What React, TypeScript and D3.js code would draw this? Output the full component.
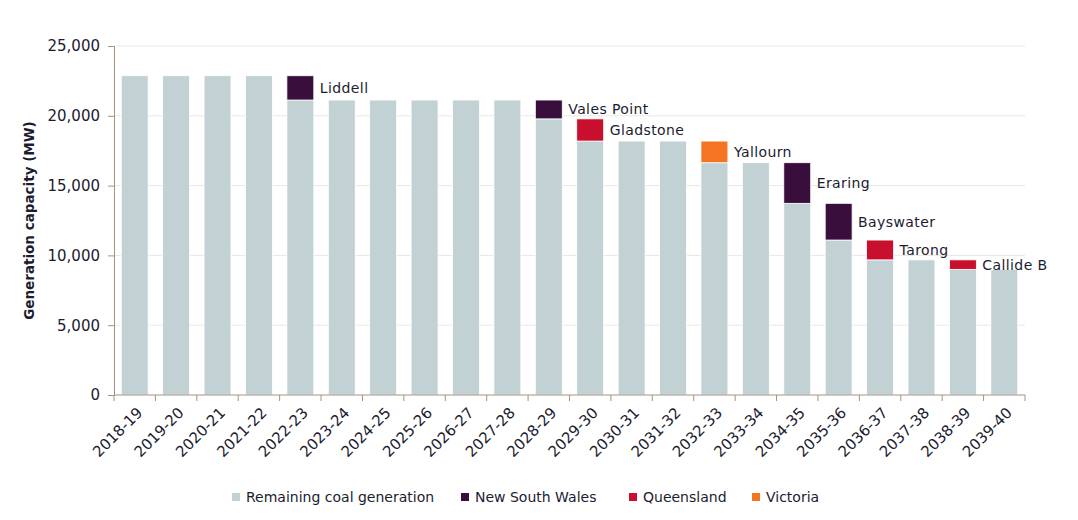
import * as d3 from 'd3'
import React, { useEffect, useRef } from 'react'

const years = [
    '2018-19', '2019-20', '2020-21', '2021-22', '2022-23', '2023-24', '2024-25', '2025-26',
    '2026-27', '2027-28', '2028-29', '2029-30', '2030-31', '2031-32', '2032-33', '2033-34',
    '2034-35', '2035-36', '2036-37', '2037-38', '2038-39', '2039-40',
]
const remaining = [
    22870, 22870, 22870, 22870, 21130, 21130, 21130, 21130, 21130, 21130, 19780, 18190, 18190,
    18190, 16640, 16640, 13730, 11100, 9680, 9680, 9000, 9000,
]
const nsw = [0, 0, 0, 0, 1740, 0, 0, 0, 0, 0, 1350, 0, 0, 0, 0, 0, 2910, 2630, 0, 0, 0, 0]
const qld = [0, 0, 0, 0, 0, 0, 0, 0, 0, 0, 0, 1590, 0, 0, 0, 0, 0, 0, 1420, 0, 680, 0]
const vic = [0, 0, 0, 0, 0, 0, 0, 0, 0, 0, 0, 0, 0, 0, 1550, 0, 0, 0, 0, 0, 0, 0]
const closures = [
    { year: '2022-23', name: 'Liddell' },
    { year: '2028-29', name: 'Vales Point' },
    { year: '2029-30', name: 'Gladstone' },
    { year: '2032-33', name: 'Yallourn' },
    { year: '2034-35', name: 'Eraring' },
    { year: '2035-36', name: 'Bayswater' },
    { year: '2036-37', name: 'Tarong' },
    { year: '2038-39', name: 'Callide B' },
]
const yTicks = [0, 5000, 10000, 15000, 20000, 25000]
const seriesKeys = ['remaining', 'nsw', 'qld', 'vic']
const seriesNames = ['Remaining coal generation', 'New South Wales', 'Queensland', 'Victoria']
const seriesColors = ['#c2d1d4', '#3a0e3c', '#c8102e', '#f47421']

const App = (): JSX.Element => {
    const ref = useRef<SVGSVGElement>(null)
    const width = 1078
    const height = 520
    const margin = { top: 46, right: 53, bottom: 125, left: 114 }
    const font = "'DejaVu Sans', sans-serif"
    const textColor = '#1c1c30'
    const axisColor = '#a39482'

    useEffect(() => {
        const rows = years.map((y, i) => ({
            year: y,
            remaining: remaining[i],
            nsw: nsw[i],
            qld: qld[i],
            vic: vic[i],
        }))
        const stacked = d3.stack().keys(seriesKeys)(rows as any)

        const x = d3
            .scaleBand()
            .domain(years)
            .range([margin.left, width - margin.right])
            .paddingInner(0.35)
            .paddingOuter(0.175)
        const y = d3
            .scaleLinear()
            .domain([0, 25000])
            .range([height - margin.bottom, margin.top])

        const svg = d3.select(ref.current)
        svg.selectAll('*').remove()

        // gridlines
        svg.append('g')
            .selectAll('line')
            .data(yTicks.filter((t) => t > 0))
            .enter()
            .append('line')
            .attr('x1', margin.left)
            .attr('x2', width - margin.right)
            .attr('y1', (d) => y(d))
            .attr('y2', (d) => y(d))
            .attr('stroke', '#ebe8e3')
            .attr('stroke-width', 1)

        // bars
        stacked.forEach((layer, k) => {
            svg.append('g')
                .selectAll('rect')
                .data(layer.filter((d) => d[1] - d[0] > 0))
                .enter()
                .append('rect')
                .attr('x', (d: any) => x(d.data.year))
                .attr('width', x.bandwidth())
                .attr('y', (d) => y(d[1]))
                .attr('height', (d) => y(d[0]) - y(d[1]))
                .attr('fill', seriesColors[k])
                .attr('stroke', '#ffffff')
                .attr('stroke-width', 0.8)
        })

        // closure labels
        closures.forEach((c) => {
            const i = years.indexOf(c.year)
            const base = remaining[i]
            const top = base + nsw[i] + qld[i] + vic[i]
            svg.append('text')
                .attr('x', (x(c.year) as number) + x.bandwidth() + 6)
                .attr('y', y((base + top) / 2))
                .attr('dy', '0.35em')
                .attr('font-family', font)
                .attr('font-size', 14)
                .attr('letter-spacing', 0.4)
                .attr('fill', textColor)
                .text(c.name)
        })

        // y axis
        const yAxis = d3
            .axisLeft(y)
            .tickValues(yTicks)
            .tickSize(6)
            .tickFormat((d) => d3.format(',')(d as number))
        const gy = svg
            .append('g')
            .attr('transform', `translate(${margin.left},0)`)
            .call(yAxis)
        gy.select('.domain').attr('stroke', axisColor)
        gy.selectAll('line').attr('stroke', axisColor)
        gy.selectAll('text')
            .attr('font-family', font)
            .attr('font-size', 15)
            .attr('fill', textColor)
            .attr('x', -14)

        // x axis
        const gx = svg.append('g').attr('transform', `translate(0,${height - margin.bottom})`)
        gx.append('line')
            .attr('x1', margin.left)
            .attr('x2', width - margin.right)
            .attr('stroke', axisColor)
        const step = x.step()
        const edges = d3.range(years.length + 1).map((i) => margin.left + i * step)
        gx.selectAll('.tick')
            .data(edges)
            .enter()
            .append('line')
            .attr('x1', (d) => d)
            .attr('x2', (d) => d)
            .attr('y1', 0)
            .attr('y2', 6)
            .attr('stroke', axisColor)
        gx.selectAll('.lbl')
            .data(years)
            .enter()
            .append('text')
            .attr(
                'transform',
                (d) => `translate(${(x(d) as number) + x.bandwidth() / 2 + 5},15) rotate(-45)`
            )
            .attr('text-anchor', 'end')
            .attr('dy', '0.35em')
            .attr('font-family', font)
            .attr('font-size', 15)
            .attr('fill', textColor)
            .text((d) => d)

        // y title
        svg.append('text')
            .attr('transform', `translate(34,${(margin.top + height - margin.bottom) / 2}) rotate(-90)`)
            .attr('text-anchor', 'middle')
            .attr('font-family', font)
            .attr('font-size', 13.5)
            .attr('font-weight', 'bold')
            .attr('fill', textColor)
            .text('Generation capacity (MW)')

        // legend
        const legendX = [232, 461, 629, 752]
        seriesNames.forEach((name, k) => {
            const g = svg.append('g').attr('transform', `translate(${legendX[k]},497)`)
            g.append('rect')
                .attr('x', 0)
                .attr('y', -4)
                .attr('width', 8)
                .attr('height', 8)
                .attr('fill', seriesColors[k])
            g.append('text')
                .attr('x', 14)
                .attr('dy', '0.35em')
                .attr('font-family', font)
                .attr('font-size', 14)
                .attr('fill', textColor)
                .text(name)
        })
    }, [])

    return (
        <svg
            ref={ref}
            width={width}
            height={height}
            style={{ position: 'absolute', left: 0, top: 0, background: '#fff' }}
        />
    )
}

export default App
